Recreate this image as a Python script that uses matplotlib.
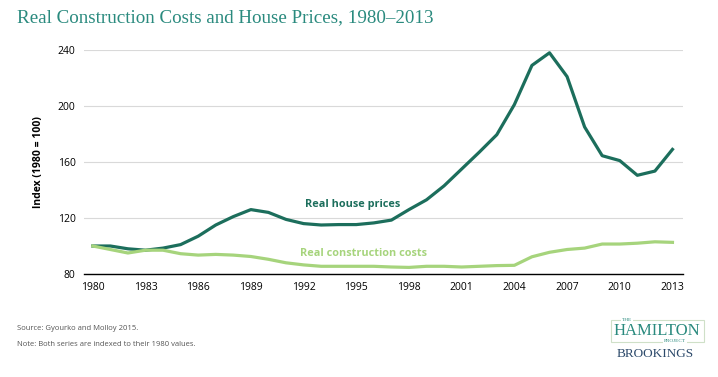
import numpy as np
import matplotlib.pyplot as plt
from matplotlib.patches import Rectangle

# data
years = list(range(1980, 2014))
house_prices = [100, 100, 98, 97, 98.5, 101, 107, 115, 121, 126, 124, 119, 116,
                115, 115.3, 115.3, 116.5, 118.5, 126, 133, 143, 155, 167, 179.5,
                201, 229, 238, 221, 185, 164.5, 161, 150.5, 153.5, 169]
construction_costs = [100, 97.5, 95, 97, 97, 94.5, 93.5, 94, 93.5, 92.5, 90.5,
                      88, 86.5, 85.5, 85.5, 85.5, 85.5, 85, 84.7, 85.5, 85.5, 85,
                      85.5, 86, 86.2, 92.3, 95.5, 97.5, 98.5, 101.4, 101.4, 102,
                      103, 102.6]
xticks = [1980, 1983, 1986, 1989, 1992, 1995, 1998, 2001, 2004, 2007, 2010, 2013]
yticks = [80, 120, 160, 200, 240]

dark = '#1c6e5c'
light = '#a6d47c'

plt.rcParams['font.family'] = ['Open Sans', 'DejaVu Sans']

fig = plt.figure(figsize=(7.18, 3.77), dpi=100)
ax = fig.add_axes([84 / 718, 1 - 274 / 377, (683 - 84) / 718, (274 - 50) / 377])

ax.plot(years, house_prices, color=dark, lw=2.3, clip_on=False, zorder=3)
ax.plot(years, construction_costs, color=light, lw=2.3, clip_on=False, zorder=3)

ax.set_xlim(1979.5, 2013.6)
ax.set_ylim(80, 240)
ax.set_xticks(xticks)
ax.set_yticks(yticks)
ax.tick_params(length=0, labelsize=7.5, colors='black', pad=6)
ax.grid(axis='y', color='#d9d9d9', lw=0.8)
ax.set_axisbelow(True)
for s in ['top', 'right', 'left']:
    ax.spines[s].set_visible(False)
ax.spines['bottom'].set_color('black')
ax.spines['bottom'].set_linewidth(1)

ax.set_ylabel('Index (1980 = 100)', fontsize=7.5, fontweight='bold', labelpad=10)

ax.text(1994.8, 130, 'Real house prices', color=dark, fontsize=7.8,
        fontweight='bold', ha='center', va='center')
ax.text(1995.4, 94.3, 'Real construction costs', color=light, fontsize=7.8,
        fontweight='bold', ha='center', va='center')

fig.text(17 / 718, 1 - 18 / 377, 'Real Construction Costs and House Prices, 1980\u20132013',
         family='Liberation Serif', fontsize=13.7, color='#2a8a7e', va='center')

fig.text(17 / 718, 1 - 329 / 377, 'Source: Gyourko and Molloy 2015.',
         fontsize=5.5, color='#555555', va='center')
fig.text(17 / 718, 1 - 344 / 377, 'Note: Both series are indexed to their 1980 values.',
         fontsize=5.5, color='#555555', va='center')

# logo
fig.patches.append(Rectangle((611 / 718, 1 - 342 / 377), 93 / 718, 22 / 377,
                             transform=fig.transFigure, fill=False,
                             ec='#cfe0c8', lw=0.8))
fig.text(627 / 718, 1 - 320 / 377, 'THE', family='Liberation Serif', fontsize=3.8,
         color='#2a8a7e', ha='center', va='center',
         bbox=dict(fc='white', ec='none', pad=0.6))
fig.text(657 / 718, 1 - 331 / 377, 'HAMILTON', family='Liberation Serif', fontsize=12,
         color='#2a8a7e', ha='center', va='center')
fig.text(675 / 718, 1 - 341 / 377, 'PROJECT', family='Liberation Serif', fontsize=3.8,
         color='#2a8a7e', ha='center', va='center',
         bbox=dict(fc='white', ec='none', pad=0.6))
fig.text(655 / 718, 1 - 354 / 377, 'BROOKINGS', family='Liberation Serif', fontsize=9.5,
         color='#2d4a6b', ha='center', va='center')

fig.savefig('out.png', dpi=100)
